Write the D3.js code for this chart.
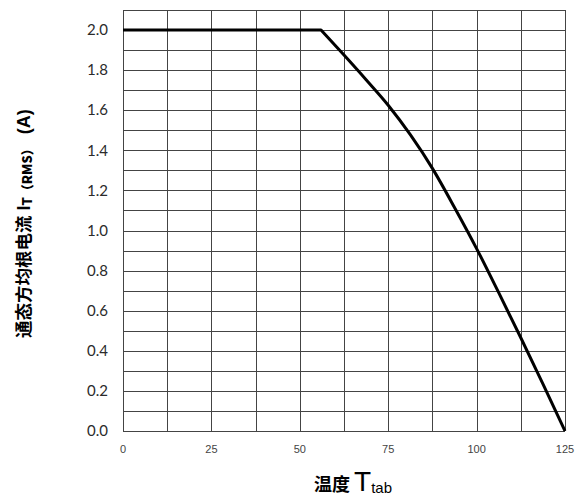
<!DOCTYPE html>
<html>
<head>
  <meta charset="utf-8">
  <script src="https://cdnjs.cloudflare.com/ajax/libs/d3/7.8.5/d3.min.js"></script>
  <style>
    body { margin: 0; background: #fff; font-family: "Liberation Sans", Arial, sans-serif; }
    .grid line { stroke: #444; stroke-width: 1; shape-rendering: crispEdges; }
    .ytick { font-family: Lato, "Open Sans", sans-serif; font-size: 15px; fill: #2b2b2b; }
    .xtick { font-size: 11px; fill: #444; }
  </style>
</head>
<body>
  <div id="chart"></div>
  <script>
    // curve
    var temps   = [0, 56, 62.5, 68.75, 75, 81.25, 87.5, 93.75, 100, 106.25, 112.5, 118.75, 125];
    var current = [2.0, 2.0, 1.875, 1.752, 1.625, 1.478, 1.31, 1.115, 0.91, 0.69, 0.465, 0.235, 0];

    var yTickLabels = [0, 0.2, 0.4, 0.6, 0.8, 1.0, 1.2, 1.4, 1.6, 1.8, 2.0];
    var xTickLabels = [0, 25, 50, 75, 100, 125];

    var svgWidth = 580, svgHeight = 500;
    var margin = { top: 10, right: 15, bottom: 69, left: 123 };
    var width = svgWidth - margin.left - margin.right;
    var height = svgHeight - margin.top - margin.bottom;

    var svg = d3.select("#chart").append("svg")
      .attr("width", svgWidth)
      .attr("height", svgHeight);
    var chart = svg.append("g")
      .attr("transform", "translate(" + margin.left + "," + margin.top + ")");

    var xScale = d3.scaleLinear().domain([0, 125]).range([0, width]);
    var yScale = d3.scaleLinear().domain([0, 2.1]).range([height, 0]);

    // grid: every 12.5 across, every 0.1 up
    var grid = chart.append("g").attr("class", "grid");
    grid.selectAll(".v")
      .data(d3.range(0, 125.01, 12.5))
      .enter().append("line")
      .attr("x1", function(d) { return Math.round(xScale(d)) + 0.5; })
      .attr("x2", function(d) { return Math.round(xScale(d)) + 0.5; })
      .attr("y1", 0)
      .attr("y2", height);
    grid.selectAll(".h")
      .data(d3.range(0, 22).map(function(i) { return i / 10; }))
      .enter().append("line")
      .attr("x1", 0)
      .attr("x2", width)
      .attr("y1", function(d) { return Math.round(yScale(d)) + 0.5; })
      .attr("y2", function(d) { return Math.round(yScale(d)) + 0.5; });

    // tick labels
    chart.selectAll(".ytick")
      .data(yTickLabels)
      .enter().append("text")
      .attr("class", "ytick")
      .attr("x", -15)
      .attr("y", function(d) { return yScale(d); })
      .attr("dy", "0.35em")
      .attr("text-anchor", "end")
      .text(function(d) { return d.toFixed(1); });

    chart.selectAll(".xtick")
      .data(xTickLabels)
      .enter().append("text")
      .attr("class", "xtick")
      .attr("x", function(d) { return xScale(d); })
      .attr("y", height + 22)
      .attr("text-anchor", "middle")
      .text(function(d) { return d; });

    // curve: flat part straight, falling part smoothed
    var data = temps.map(function(t, i) { return { t: t, a: current[i] }; });
    var knee = 1;
    var line = d3.line()
      .x(function(d) { return xScale(d.t); })
      .y(function(d) { return yScale(d.a); });
    var path = line(data.slice(0, knee + 1)) +
      line.curve(d3.curveMonotoneX)(data.slice(knee)).replace(/^M[^LC]*/, "");
    chart.append("path")
      .attr("fill", "none")
      .attr("stroke", "#000")
      .attr("stroke-width", 3)
      .attr("stroke-linejoin", "round")
      .attr("d", path);

    // x axis title
    var xt = svg.append("text")
      .attr("x", 353)
      .attr("y", 491)
      .attr("text-anchor", "middle")
      .attr("fill", "#000");
    xt.append("tspan")
      .style("font-family", "'Noto Sans CJK SC', sans-serif")
      .style("font-weight", "bold")
      .style("font-size", "18px")
      .text("温度 ");
    xt.append("tspan")
      .style("font-size", "28px")
      .text("T");
    xt.append("tspan")
      .style("font-size", "15px")
      .attr("dy", 2)
      .text("tab");

    // y axis title
    var yt = svg.append("text")
      .attr("transform", "translate(30,338) rotate(-90)")
      .attr("text-anchor", "start")
      .attr("fill", "#000")
      .style("font-weight", "bold");
    yt.append("tspan")
      .style("font-family", "'Noto Sans CJK SC', sans-serif")
      .style("font-size", "17.5px")
      .text("通态方均根电流");
    yt.append("tspan")
      .style("font-size", "18px")
      .attr("dx", 5)
      .text("I");
    yt.append("tspan")
      .style("font-family", "'Noto Sans CJK SC', sans-serif")
      .style("font-size", "13px")
      .style("font-weight", "900")
      .attr("dy", 2)
      .text("T（RMS）");
    yt.append("tspan")
      .style("font-size", "18px")
      .attr("dy", -2)
      .attr("dx", 8)
      .text("(A)");
  </script>
</body>
</html>
